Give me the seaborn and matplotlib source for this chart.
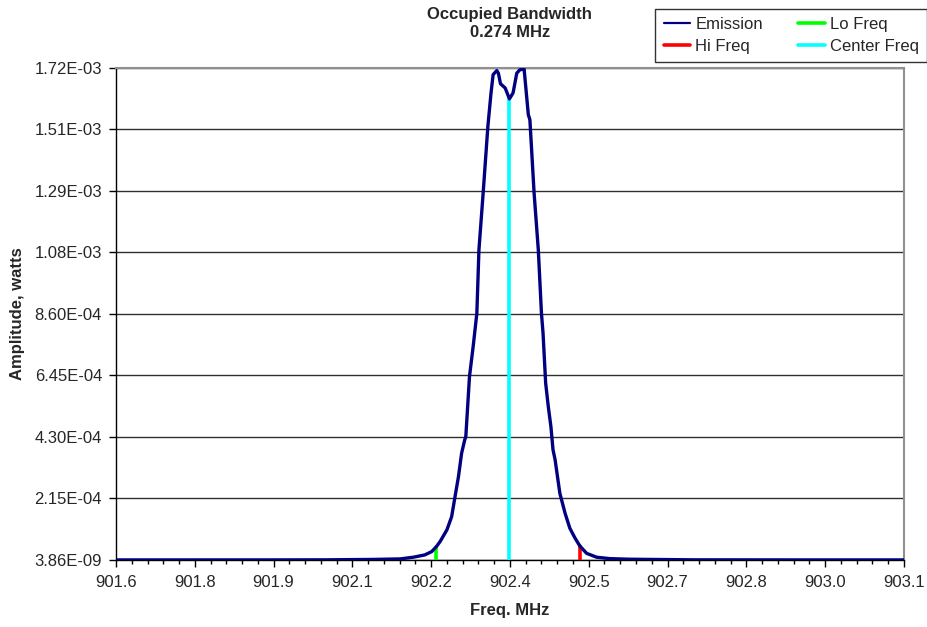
import numpy as np
import pandas as pd
import matplotlib
matplotlib.use("Agg")
import matplotlib.pyplot as plt
import seaborn as sns

# emission trace (MHz, watts)
freq = [901.600, 901.900, 902.000, 902.089, 902.141, 902.166, 902.188, 902.201, 902.210,
        902.217, 902.230, 902.239, 902.245, 902.252, 902.258, 902.264, 902.266, 902.273,
        902.280, 902.287, 902.291, 902.299, 902.308, 902.314, 902.318, 902.325, 902.328,
        902.332, 902.341, 902.349, 902.356, 902.363, 902.369, 902.377, 902.385, 902.388,
        902.396, 902.404, 902.410, 902.413, 902.418, 902.423, 902.428, 902.432, 902.436,
        902.445, 902.455, 902.464, 902.474, 902.483, 902.496, 902.515, 902.540, 902.578,
        902.700, 902.900, 903.100]
amp = [3.9e-9, 5.0e-8, 3.0e-7, 1.7e-6, 3.5e-6, 9.4e-6, 1.75e-5, 2.9e-5, 4.65e-5,
       6.4e-5, 1.05e-4, 1.51e-4, 2.16e-4, 2.91e-4, 3.73e-4, 4.20e-4, 4.31e-4, 6.41e-4,
       7.46e-4, 8.62e-4, 1.084e-3, 1.282e-3, 1.515e-3, 1.632e-3, 1.696e-3, 1.710e-3, 1.701e-3,
       1.664e-3, 1.649e-3, 1.611e-3, 1.632e-3, 1.701e-3, 1.713e-3, 1.715e-3, 1.556e-3, 1.538e-3,
       1.282e-3, 1.084e-3, 8.62e-4, 7.93e-4, 6.18e-4, 5.36e-4, 4.66e-4, 3.85e-4, 3.50e-4,
       2.33e-4, 1.63e-4, 1.11e-4, 7.6e-5, 4.9e-5, 2.3e-5, 9.4e-6, 4.5e-6, 2.4e-6,
       3.0e-7, 3.0e-8, 3.9e-9]

# marker lines: name, freq, height
marker_names = ["Lo Freq", "Hi Freq", "Center Freq"]
marker_freq = [902.210, 902.483, 902.349]
marker_amp = [4.65e-5, 4.9e-5, 1.611e-3]
marker_colors = ["#00ff00", "#ff0000", "#00ffff"]

y_min, y_max = 3.86e-9, 1.72e-3
x_ticks = [901.6, 901.75, 901.9, 902.05, 902.2, 902.35, 902.5, 902.65, 902.8, 902.95, 903.1]
x_labels = ["901.6", "901.8", "901.9", "902.1", "902.2", "902.4", "902.5", "902.7", "902.8", "903.0", "903.1"]

sns.set_style("white")
plt.rcParams['font.family'] = ['Liberation Sans', 'DejaVu Sans']

fig = plt.figure(figsize=(9.28, 6.27), dpi=100)
ax = fig.add_axes([0.125, 0.107, 0.849, 0.785])

df = pd.DataFrame({"freq": freq, "amp": amp})
sns.lineplot(data=df, x="freq", y="amp", ax=ax, color="#000080", lw=2.4,
             label="Emission", zorder=4)

for name, f, a, c in zip(marker_names, marker_freq, marker_amp, marker_colors):
    ax.plot([f, f], [y_min, a], color=c, lw=2.6, label=name, zorder=3)

ax.set_xlim(901.6, 903.1)
ax.set_ylim(y_min, y_max)
y_ticks = np.linspace(y_min, y_max, 9)
ax.set_yticks(y_ticks)
ax.set_yticklabels(["%.2E" % v for v in y_ticks])
ax.set_xticks(x_ticks)
ax.set_xticklabels(x_labels)
ax.set_xticks(np.arange(901.6, 903.1001, 0.03), minor=True)

ax.yaxis.grid(True, color="#303030", lw=1.0)
ax.set_axisbelow(True)
for s in ["top", "right"]:
    ax.spines[s].set_color("#909090")
    ax.spines[s].set_linewidth(1.5)
for s in ["left", "bottom"]:
    ax.spines[s].set_color("black")
    ax.spines[s].set_linewidth(1.0)

ax.tick_params(axis="y", which="major", direction="out", length=5, width=1,
               color="black", labelsize=12, pad=5, left=True)
ax.tick_params(axis="x", which="major", direction="out", length=5, width=1,
               color="black", labelsize=12, pad=6, bottom=True)
ax.tick_params(axis="x", which="minor", direction="out", length=3, width=1,
               color="black", bottom=True)

ax.set_xlabel("Freq. MHz", fontsize=12, fontweight="bold", labelpad=9)
ax.set_ylabel("Amplitude, watts", fontsize=12, fontweight="bold", labelpad=7)
ax.set_title("Occupied Bandwidth\n0.274 MHz", fontsize=12, fontweight="bold",
             pad=22, linespacing=1.25)

h, l = ax.get_legend_handles_labels()
order = [l.index(n) for n in ["Emission", "Hi Freq", "Lo Freq", "Center Freq"]]
leg = fig.legend([h[i] for i in order], [l[i] for i in order], ncol=2,
                 loc="upper right", bbox_to_anchor=(0.999, 0.986), fontsize=12,
                 frameon=True, fancybox=False, edgecolor="black", handlelength=1.6,
                 handletextpad=0.3, columnspacing=2.1, borderpad=0.5,
                 labelspacing=0.42, borderaxespad=0)
leg.get_frame().set_linewidth(1.0)
leg.get_lines()[0].set_linewidth(1.6)
ax.get_legend().remove()

fig.savefig("out.png", dpi=100)
